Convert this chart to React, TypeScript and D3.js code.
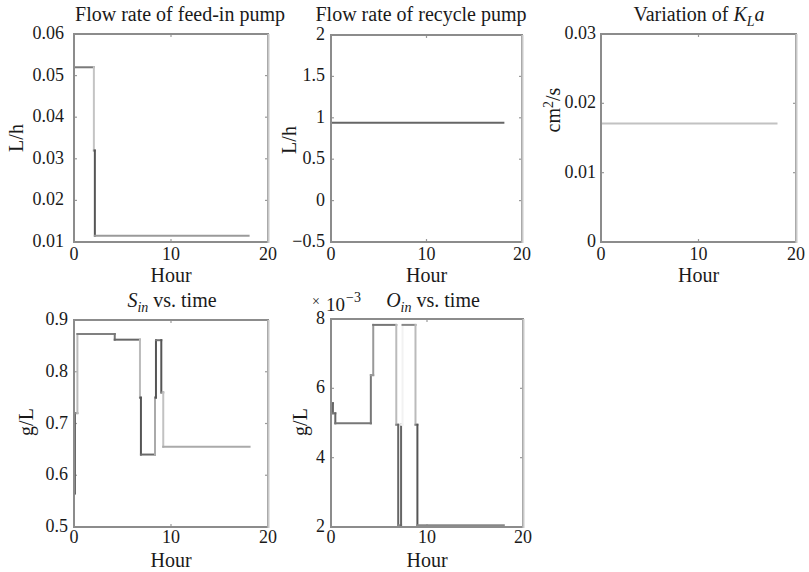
import React from "react";
import * as d3 from "d3";

// ---- data ----
const feedHours = [0, 2.05, 2.15, 18.0];
const feedFlow = [0.052, 0.032, 0.0115, 0.0115];

const recycleHours = [0, 18.05];
const recycleFlow = [0.94, 0.94];

const klaHours = [0, 18.0];
const klaValues = [0.0171, 0.0171];

const sInHours = [0, 0.1, 0.35, 4.2, 6.8, 6.9, 8.35, 8.45, 9.0, 9.2, 18.1];
const sInValues = [0.565, 0.72, 0.873, 0.862, 0.75, 0.64, 0.75, 0.861, 0.76, 0.655, 0.655];

const oInHours = [0, 0.2, 0.45, 4.15, 4.4, 6.8, 7.0, 7.3, 7.45, 8.8, 9.0, 18.0];
const oInValues = [
  0.00557, 0.00528, 0.00499, 0.00638, 0.00783, 0.00495, 0.00205, 0.00495, 0.00783, 0.00495, 0.00205,
  0.00205,
];

const hourTicks = [0, 10, 20];
const feedTicks = [0.01, 0.02, 0.03, 0.04, 0.05, 0.06];
const recycleTicks = [-0.5, 0, 0.5, 1, 1.5, 2];
const klaTicks = [0, 0.01, 0.02, 0.03];
const sInTicks = [0.5, 0.6, 0.7, 0.8, 0.9];
const oInTicks = [0.002, 0.004, 0.006, 0.008];

// ---- styles ----
const FONT = "'Liberation Serif', 'Times New Roman', serif";
const FS = 18; // tick labels
const FS_WORD = 20; // titles and axis names
const TEXT = "#1a1a1a";

// shade per step segment, in order: horizontal, vertical, horizontal, vertical, ...
const feedShades = ["#7a7a7a", "#c4c4c4", "#999", "#555", "#9a9a9a", "#9a9a9a"];
const recycleShades = ["#666", "#666"];
const klaShades = ["#c2c2c2", "#c2c2c2"];
const sInShades = [
  "#666", "#666", "#888", "#bbb", "#808080", "#777", "#666", "#bbb", "#777", "#555",
  "#6a6a6a", "#aaa", "#888", "#555", "#777", "#555", "#888", "#c2c2c2", "#aaa", "#aaa",
];
const oInShades = [
  "#777", "#666", "#777", "#666", "#777", "#777", "#999", "#999", "#777", "#bbb",
  "#888", "#666", "#888", "#666", "#f2f2f2", "#f2f2f2", "#888", "#bbb", "#888", "#555",
  "#888", "#888",
];

type Fmt = (v: number) => string;

interface PanelProps {
  x0: number;
  x1: number;
  y0: number;
  y1: number;
  hours: number[];
  values: number[];
  shades: string[];
  yDomain: [number, number];
  yTicks: number[];
  yFmt: Fmt;
  labelGap: number;
  xLabelY: number;
  hourY: number;
  yLabel: React.ReactNode;
  yLabelX: number;
  yLabelY: number;
  title: React.ReactNode;
  titleX: number;
  titleY: number;
}

function Panel(p: PanelProps) {
  const x = d3.scaleLinear().domain([0, 20]).range([p.x0, p.x1]);
  const y = d3.scaleLinear().domain(p.yDomain).range([p.y1, p.y0]);

  const segs: { a: [number, number]; b: [number, number]; c: string }[] = [];
  let k = 0;
  for (let i = 0; i < p.hours.length - 1; i++) {
    const xa = x(p.hours[i]);
    const xb = x(p.hours[i + 1]);
    const ya = y(p.values[i]);
    const yb = y(p.values[i + 1]);
    segs.push({ a: [xa, ya], b: [xb, ya], c: p.shades[k++] || "#888" });
    segs.push({ a: [xb, ya], b: [xb, yb], c: p.shades[k++] || "#888" });
  }
  const line = d3.line();
  const tickLen = 3;

  return (
    <g>
      {/* inner tick marks on all sides */}
      {hourTicks.map((t) => (
        <g key={"xt" + t} stroke="#9a9a9a" strokeWidth={1.2}>
          <line x1={x(t)} x2={x(t)} y1={p.y1} y2={p.y1 - tickLen} />
          <line x1={x(t)} x2={x(t)} y1={p.y0} y2={p.y0 + tickLen} />
        </g>
      ))}
      {p.yTicks.map((t) => (
        <g key={"yt" + t} stroke="#9a9a9a" strokeWidth={1.2}>
          <line x1={p.x0} x2={p.x0 + tickLen} y1={y(t)} y2={y(t)} />
          <line x1={p.x1} x2={p.x1 - tickLen} y1={y(t)} y2={y(t)} />
        </g>
      ))}
      {/* step trace */}
      {segs.map((s, i) =>
        s.a[0] === s.b[0] && s.a[1] === s.b[1] ? null : (
          <path key={i} d={line([s.a, s.b]) || ""} stroke={s.c} strokeWidth={2} fill="none" strokeLinecap="square" />
        )
      )}
      {/* frame */}
      <rect
        x={p.x0}
        y={p.y0}
        width={p.x1 - p.x0}
        height={p.y1 - p.y0}
        fill="none"
        stroke="#8c8c8c"
        strokeWidth={2}
      />
      <line x1={p.x1 + 0.5} x2={p.x1 + 0.5} y1={p.y0} y2={p.y1 + 1} stroke="#c8c8c8" strokeWidth={2} />
      {/* tick labels */}
      <g fontFamily={FONT} fontSize={FS} fill={TEXT}>
        {hourTicks.map((t) => (
          <text key={"xl" + t} x={x(t)} y={p.xLabelY} textAnchor="middle">
            {t}
          </text>
        ))}
        {p.yTicks.map((t) => (
          <text key={"yl" + t} x={p.x0 - p.labelGap} y={y(t) + 5} textAnchor="end">
            {p.yFmt(t)}
          </text>
        ))}
      </g>
      <g fontFamily={FONT} fontSize={FS_WORD} fill={TEXT}>
        <text x={(p.x0 + p.x1) / 2} y={p.hourY} textAnchor="middle">
          Hour
        </text>
        <text transform={`translate(${p.yLabelX},${p.yLabelY}) rotate(-90)`} textAnchor="middle" dy="0.35em">
          {p.yLabel}
        </text>
        <text x={p.titleX} y={p.titleY} textAnchor="middle">
          {p.title}
        </text>
      </g>
    </g>
  );
}

const plain: Fmt = (v) => (v < 0 ? "\u2212" + String(-v) : String(v));
const fixed2: Fmt = (v) => v.toFixed(2);
const fixed1: Fmt = (v) => v.toFixed(1);
const milli: Fmt = (v) => String(Math.round(v * 1000));

export default function App() {
  return (
    <svg
      width={809}
      height={572}
      viewBox="0 0 809 572"
      style={{ position: "absolute", left: 0, top: 0, background: "#fff" }}
    >
      <rect width={809} height={572} fill="#fff" />
      <Panel
        x0={74}
        x1={268}
        y0={34}
        y1={242}
        hours={feedHours}
        values={feedFlow}
        shades={feedShades}
        yDomain={[0.01, 0.06]}
        yTicks={feedTicks}
        yFmt={fixed2}
        labelGap={10}
        xLabelY={260}
        hourY={282}
        yLabel="L/h"
        yLabelX={16}
        yLabelY={138}
        title="Flow rate of feed-in pump"
        titleX={180}
        titleY={21}
      />
      <Panel
        x0={331}
        x1={522}
        y0={35}
        y1={242}
        hours={recycleHours}
        values={recycleFlow}
        shades={recycleShades}
        yDomain={[-0.5, 2]}
        yTicks={recycleTicks}
        yFmt={plain}
        labelGap={6}
        xLabelY={260}
        hourY={282}
        yLabel="L/h"
        yLabelX={289}
        yLabelY={140}
        title="Flow rate of recycle pump"
        titleX={421}
        titleY={21}
      />
      <Panel
        x0={601}
        x1={796}
        y0={34}
        y1={242}
        hours={klaHours}
        values={klaValues}
        shades={klaShades}
        yDomain={[0, 0.03]}
        yTicks={klaTicks}
        yFmt={(v) => (v === 0 ? "0" : fixed2(v))}
        labelGap={5}
        xLabelY={260}
        hourY={282}
        yLabel={
          <>
            cm<tspan dy={-7} fontSize={14}>2</tspan>
            <tspan dy={7}>/s</tspan>
          </>
        }
        yLabelX={553}
        yLabelY={110}
        title={
          <>
            Variation of <tspan fontStyle="italic">K</tspan>
            <tspan fontStyle="italic" fontSize={14} dy={5}>L</tspan>
            <tspan fontStyle="italic" dy={-5}>a</tspan>
          </>
        }
        titleX={699}
        titleY={21}
      />
      <Panel
        x0={74}
        x1={268}
        y0={320}
        y1={527}
        hours={sInHours}
        values={sInValues}
        shades={sInShades}
        yDomain={[0.5, 0.9]}
        yTicks={sInTicks}
        yFmt={fixed1}
        labelGap={6}
        xLabelY={543}
        hourY={567}
        yLabel="g/L"
        yLabelX={26}
        yLabelY={422}
        title={
          <>
            <tspan fontStyle="italic">S</tspan>
            <tspan fontStyle="italic" fontSize={14} dy={5}>in</tspan>
            <tspan dy={-5}> vs. time</tspan>
          </>
        }
        titleX={172}
        titleY={307}
      />
      <Panel
        x0={331}
        x1={523}
        y0={319}
        y1={527}
        hours={oInHours}
        values={oInValues}
        shades={oInShades}
        yDomain={[0.002, 0.008]}
        yTicks={oInTicks}
        yFmt={milli}
        labelGap={6}
        xLabelY={543}
        hourY={567}
        yLabel="g/L"
        yLabelX={300}
        yLabelY={422}
        title={
          <>
            <tspan fontStyle="italic">O</tspan>
            <tspan fontStyle="italic" fontSize={14} dy={5}>in</tspan>
            <tspan dy={-5}> vs. time</tspan>
          </>
        }
        titleX={433}
        titleY={307}
      />
      {/* exponent of the O_in axis */}
      <g fontFamily={FONT} fill={TEXT}>
        <text x={312} y={306} fontSize={14}>×</text>
        <text x={326} y={311} fontSize={19}>10</text>
        <text x={346} y={302} fontSize={14}>−3</text>
      </g>
    </svg>
  );
}
